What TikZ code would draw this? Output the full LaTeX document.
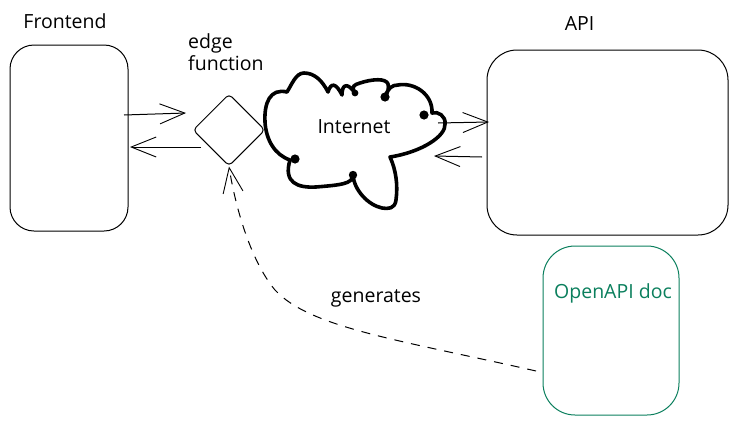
\documentclass[tikz,border=0pt]{standalone}
\usepackage{fontspec}
\setmainfont{Open Sans}
\usetikzlibrary{calc,shapes.geometric,arrows.meta}
\definecolor{sgreen}{HTML}{0B7F5D}

\begin{document}
\begin{tikzpicture}[x=1pt,y=-1pt,
    BOX/.style={draw=black, line width=1pt, rectangle, rounded corners=24pt, inner sep=0pt},
    DIA/.style={draw=black, line width=1pt, diamond, rounded corners=4pt, inner sep=0pt, aspect=1, minimum width=72pt, minimum height=72pt},
    LAB/.style={font=\fontsize{19.5}{22}\selectfont, inner sep=0pt},
    FLOW/.style={line width=1pt, -{Straight Barb[length=25pt,width=20pt,line width=0.9pt]}}
    ]
        \useasboundingbox (0,0) rectangle (738,426);
        \node[BOX, minimum width=118pt, minimum height=186pt] (frontend) at (69,138) {};
        \node[BOX, rounded corners=30pt, minimum width=241pt, minimum height=185pt] (api) at (607.5,142.5) {};
        \node[BOX, draw=sgreen, rounded corners=32pt, minimum width=136pt, minimum height=169pt] (doc) at (611,330.5) {};
        \node[DIA] (edge) at (229,130) {};
        % cloud
        \draw[line width=3.6pt, line cap=round, line join=round] (287,92)
            .. controls (292,84) and (296,73) .. (304,73)
            .. controls (314,73) and (322,80) .. (328,92)
            .. controls (331,82) and (336,83) .. (342,95)
            .. controls (342,83) and (348,83) .. (355,93)
            .. controls (351,86) and (354,85) .. (360,83)
            .. controls (372,79) and (386,78) .. (388,84)
            .. controls (389,88) and (388,92) .. (385,97)
            .. controls (388,88) and (392,85) .. (398,85)
            .. controls (414,82) and (433,94) .. (432,113)
            .. controls (438,111) and (446,116) .. (445,124)
            .. controls (446,136) and (422,152) .. (390,157)
            .. controls (396,170) and (398,185) .. (396,200)
            .. controls (395,209) and (388,209) .. (382,208)
            .. controls (368,205) and (354,190) .. (353,175)
            .. controls (353,184) and (340,185) .. (316,187)
            .. controls (298,188) and (283,183) .. (290,160)
            .. controls (275,155) and (266,140) .. (265,122)
            .. controls (264,103) and (270,88) .. (287,92) -- cycle;
        \fill (295,159) circle (4.6pt) (353,175) circle (4.2pt) (385,97) circle (4.6pt) (424,115) circle (4.6pt) (355,93) circle (3.4pt);
        \node[LAB] (internet) at (354,127) {Internet};
        \node[LAB] (frontendlab) at ($(frontend.north)+(-4,-23)$) {Frontend};
        \node[LAB] (apilab) at ($(api.north)+(-28,-26)$) {API};
        \node[LAB, align=left, anchor=north west] (edgelab) at (188,33) {edge\\function};
        \node[LAB, text=sgreen] (doclab) at ($(doc.north)+(2,48)$) {OpenAPI doc};
        \node[LAB] (genlab) at (376,298) {generates};
        \coordinate (fout) at (124,115);
        \coordinate (ein) at (186,113);
        \coordinate (eout) at (201,147);
        \coordinate (fin) at (130,147);
        \coordinate (cout) at (438,123);
        \coordinate (ain) at (489,122);
        \coordinate (aout) at (482,157);
        \coordinate (cin) at (434,156);
        \coordinate (dout) at (536,371);
        \draw[FLOW] (fout) -- (ein);
        \draw[FLOW] (eout) -- (fin);
        \draw[FLOW] (cout) -- (ain);
        \draw[FLOW] (aout) -- (cin);
        \draw[FLOW, dashed, dash pattern=on 9pt off 8pt] (dout) .. controls (400,340) and (310,328) .. (275,290) .. controls (250,260) and (235,205) .. (edge.south);
    \end{tikzpicture}
\end{document}
